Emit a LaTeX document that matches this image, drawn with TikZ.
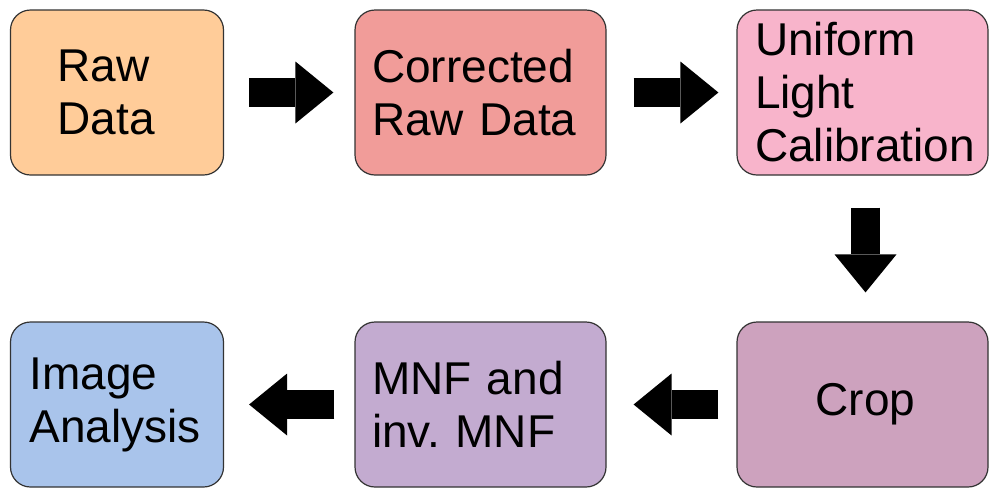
\documentclass[tikz,border=0pt]{standalone}
\usepackage{fontspec}
\setmainfont{Liberation Sans}
\usetikzlibrary{arrows.meta}
\definecolor{rawc}{HTML}{FFCC99}
\definecolor{corrc}{HTML}{F19C99}
\definecolor{lightc}{HTML}{F8B4CB}
\definecolor{cropc}{HTML}{CDA2BE}
\definecolor{mnfc}{HTML}{C3ABD0}
\definecolor{imgc}{HTML}{A9C4EB}
\frenchspacing
\newcommand{\stagefont}{\fontsize{23}{26.5}\selectfont\hyphenpenalty=10000}
\tikzstyle{stage}=[draw=black!80,line width=0.6pt,rounded corners=10pt,minimum height=82.5pt,font=\stagefont,align=left]
\tikzstyle{fat}=[black,line width=14.5pt,-{Triangle[length=19pt,width=31pt,line width=0pt]}]

\begin{document}
\begin{tikzpicture}[x=0.5pt,y=-0.5pt]
		\useasboundingbox (0,0) rectangle (989,489);
		\node [stage,fill=rawc,inner xsep=23.5pt,text width=59.5pt] (raw) at (117,92.5) {Raw\\Data};
		\node [stage,fill=corrc,inner xsep=8.5pt,text width=108.5pt] (corr) at (480.5,92.5) {Corrected\\Raw Data};
		\node [stage,fill=lightc,inner xsep=9pt,text width=107.5pt] (light) at (862.5,92.5) {Uniform\\Light\\Calibration};
		\node [stage,fill=imgc,inner xsep=9.5pt,text width=87.5pt] (img) at (117,404.5) {Image\\Analysis};
		\node [stage,fill=mnfc,inner xsep=8.5pt,text width=108.5pt] (mnf) at (480.5,404.5) {MNF and\\inv. MNF};
		\node [stage,fill=cropc,inner xsep=10pt,text width=105.5pt,align=center] (crop) at (862.5,404.5) {\hspace*{3pt}Crop};

		\draw [fat,shorten <=12.5pt,shorten >=10.5pt] (raw.east)--(corr.west);
		\draw [fat,shorten <=13.5pt,shorten >=9pt] (corr.east)--(light.west);
		\draw [fat,shorten <=16pt,shorten >=14.5pt] ([xshift=1.5pt]light.south)--([xshift=1.5pt]crop.north);
		\draw [fat,shorten <=9pt,shorten >=13.5pt] (crop.west)--(mnf.east);
		\draw [fat,shorten <=10pt,shorten >=12.5pt] (mnf.west)--(img.east);
	\end{tikzpicture}
\end{document}
